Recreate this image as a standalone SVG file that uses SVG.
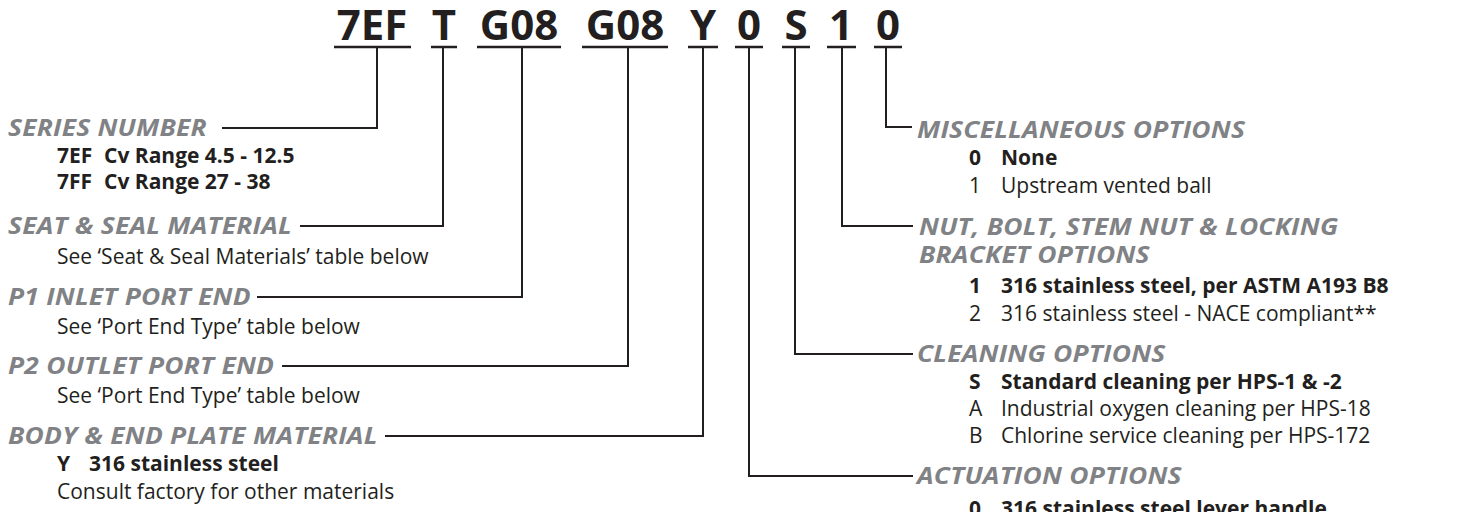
<svg xmlns="http://www.w3.org/2000/svg" width="1460" height="512" viewBox="0 0 1460 512">
<style>
.code{font-family:"Open Sans","Liberation Sans",sans-serif;font-weight:bold;font-size:42px;fill:#231f20;text-anchor:middle}
.lbl{font-family:"Open Sans","Liberation Sans",sans-serif;font-weight:bold;font-style:italic;font-size:24px;letter-spacing:0.2px;fill:#808285}
.b{font-family:"Open Sans","Liberation Sans",sans-serif;font-weight:bold;font-size:21px;fill:#231f20}
.r{font-family:"Open Sans","Liberation Sans",sans-serif;font-size:21px;fill:#231f20}
.ul{stroke:#231f20;stroke-width:2.5}
.conn{fill:none;stroke:#231f20;stroke-width:2}
</style>
<rect width="1460" height="512" fill="#ffffff"/>
<g id="code">
<text class="code" x="372" y="40">7EF</text>
<text class="code" x="444" y="40">T</text>
<text class="code" x="519" y="40">G08</text>
<text class="code" x="625" y="40">G08</text>
<text class="code" x="703" y="40">Y</text>
<text class="code" x="749" y="40">0</text>
<text class="code" x="796" y="40">S</text>
<text class="code" x="841" y="40">1</text>
<text class="code" x="888" y="40">0</text>
<line class="ul" x1="334" y1="47" x2="411" y2="47"/>
<line class="ul" x1="431" y1="47" x2="457" y2="47"/>
<line class="ul" x1="477" y1="47" x2="561" y2="47"/>
<line class="ul" x1="582" y1="47" x2="668" y2="47"/>
<line class="ul" x1="688" y1="47" x2="718" y2="47"/>
<line class="ul" x1="735" y1="47" x2="763" y2="47"/>
<line class="ul" x1="782" y1="47" x2="810" y2="47"/>
<line class="ul" x1="827" y1="47" x2="856" y2="47"/>
<line class="ul" x1="874" y1="47" x2="902" y2="47"/>
</g>
<g id="connectors">
<path class="conn" d="M377,47 V128 H222"/>
<path class="conn" d="M443,47 V226 H300"/>
<path class="conn" d="M522,47 V297 H257"/>
<path class="conn" d="M628,47 V366 H282"/>
<path class="conn" d="M703,47 V436 H385"/>
<path class="conn" d="M749,47 V476 H913"/>
<path class="conn" d="M795,47 V354 H913"/>
<path class="conn" d="M842,47 V226 H913"/>
<path class="conn" d="M886,47 V127 H912"/>
</g>
<g id="series">
<text class="lbl" transform="translate(8,136) scale(1.1,1)">SERIES NUMBER</text>
<text class="b" y="163"><tspan x="57">7EF</tspan><tspan x="104">Cv Range 4.5 - 12.5</tspan></text>
<text class="b" y="189"><tspan x="57">7FF</tspan><tspan x="104">Cv Range 27 - 38</tspan></text>
</g>
<g id="seat">
<text class="lbl" transform="translate(8,234) scale(1.1,1)">SEAT &amp; SEAL MATERIAL</text>
<text class="r" x="57" y="264">See ‘Seat &amp; Seal Materials’ table below</text>
</g>
<g id="p1">
<text class="lbl" transform="translate(8,305) scale(1.1,1)">P1 INLET PORT END</text>
<text class="r" x="57" y="334">See ‘Port End Type’ table below</text>
</g>
<g id="p2">
<text class="lbl" transform="translate(8,374) scale(1.1,1)">P2 OUTLET PORT END</text>
<text class="r" x="57" y="403">See ‘Port End Type’ table below</text>
</g>
<g id="body">
<text class="lbl" transform="translate(8,444) scale(1.1,1)">BODY &amp; END PLATE MATERIAL</text>
<text class="b" y="471"><tspan x="57">Y</tspan><tspan x="89">316 stainless steel</tspan></text>
<text class="r" x="57" y="499">Consult factory for other materials</text>
</g>
<g id="misc">
<text class="lbl" transform="translate(917,138) scale(1.1,1)">MISCELLANEOUS OPTIONS</text>
<text class="b" y="165"><tspan x="969">0</tspan><tspan x="1001">None</tspan></text>
<text class="r" y="193"><tspan x="969">1</tspan><tspan x="1001">Upstream vented ball</tspan></text>
</g>
<g id="nut">
<text class="lbl" transform="translate(919,235) scale(1.1,1)">NUT, BOLT, STEM NUT &amp; LOCKING</text>
<text class="lbl" transform="translate(919,263) scale(1.1,1)">BRACKET OPTIONS</text>
<text class="b" y="293"><tspan x="969">1</tspan><tspan x="1001">316 stainless steel, per ASTM A193 B8</tspan></text>
<text class="r" y="321"><tspan x="969">2</tspan><tspan x="1001">316 stainless steel - NACE compliant**</tspan></text>
</g>
<g id="cleaning">
<text class="lbl" transform="translate(917,362) scale(1.1,1)">CLEANING OPTIONS</text>
<text class="b" y="389"><tspan x="969">S</tspan><tspan x="1001">Standard cleaning per HPS-1 &amp; -2</tspan></text>
<text class="r" y="416"><tspan x="969">A</tspan><tspan x="1001">Industrial oxygen cleaning per HPS-18</tspan></text>
<text class="r" y="443"><tspan x="969">B</tspan><tspan x="1001">Chlorine service cleaning per HPS-172</tspan></text>
</g>
<g id="actuation">
<text class="lbl" transform="translate(917,484) scale(1.1,1)">ACTUATION OPTIONS</text>
<text class="b" y="516"><tspan x="969">0</tspan><tspan x="1001">316 stainless steel lever handle</tspan></text>
</g>
</svg>
